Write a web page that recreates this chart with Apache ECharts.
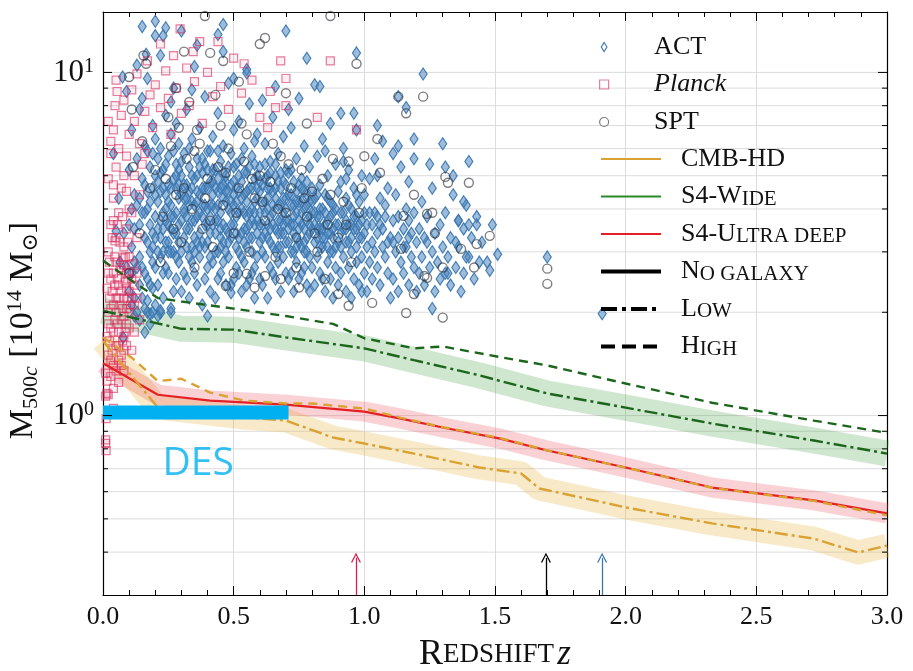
<!DOCTYPE html>
<html><head><meta charset="utf-8">
<script src="https://cdn.jsdelivr.net/npm/echarts@6/dist/echarts.min.js"></script>
<style>html,body{margin:0;padding:0;background:#fff}#c{width:913px;height:671px}</style>
</head><body><div id="c"></div>
<script>
// ---------- tick labels ----------
const xTickLabels = ['0.0','0.5','1.0','1.5','2.0','2.5','3.0'];
const yMajorTicks = [1, 10];
const yMajorExp = ['0', '1'];
const yMinorTicks = [0.4,0.5,0.6,0.7,0.8,0.9,2,3,4,5,6,7,8,9];

// ---------- forecast curves (z, M500c) ----------
const s4WideHigh = [[0,2.83],[0.11,2.47],[0.21,2.2],[0.3,2.15],[0.5,2.05],[0.7,1.95],[0.88,1.85],[1.0,1.68],[1.19,1.57],[1.3,1.59],[1.52,1.48],[1.7,1.40],[2.0,1.24],[2.33,1.09],[2.72,0.967],[3.0,0.89]];
const s4WideLow = [[0,2.02],[0.11,1.93],[0.3,1.79],[0.5,1.78],[0.7,1.69],[1.0,1.57],[1.19,1.45],[1.44,1.31],[1.7,1.16],[2.0,1.055],[2.33,0.948],[2.72,0.846],[3.0,0.775]];
const ultraDeep = [[0,1.42],[0.21,1.15],[0.41,1.106],[0.7,1.076],[1.0,1.027],[1.14,0.98],[1.3,0.923],[1.52,0.857],[1.7,0.791],[2.0,0.706],[2.33,0.617],[2.72,0.566],[3.0,0.519]];
const cmbHdHigh = [[0,1.69],[0.11,1.475],[0.21,1.26],[0.3,1.28],[0.41,1.167],[0.54,1.106],[0.7,1.084],[0.8,1.084],[1.0,1.048],[1.14,0.985],[1.3,0.925],[1.52,0.86],[1.7,0.792],[2.0,0.705],[2.33,0.616],[2.72,0.564],[3.0,0.512]];
const cmbHdLow = [[0,1.65],[0.21,1.055],[0.54,0.987],[0.7,0.967],[0.88,0.863],[1.0,0.829],[1.19,0.775],[1.44,0.706],[1.6,0.678],[1.67,0.613],[1.83,0.577],[2.0,0.54],[2.33,0.485],[2.72,0.438],[2.89,0.399],[3.0,0.418]];
const desLimit = [[0,1.02],[0.71,1.02]];
const desLabelPos = [[0.364,0.725]];
const arrowRedshifts = [0.968, 1.695, 1.91];
const arrowTop = 0.385;

// ---------- cluster catalogues (z, M500c) ----------
const act = [
[0.10,2.3],[0.11,3.1],[0.12,4.4],[0.12,1.95],[0.13,5.6],[0.13,2.7],[0.14,3.6],[0.14,7.8],[0.15,2.2],[0.15,4.9],[0.16,3.3],[0.16,6.1],[0.17,2.5],[0.17,4.0],[0.17,9.6],[0.18,1.85],[0.18,3.0],[0.18,5.3],[0.19,2.8],[0.19,4.6],[0.19,7.0],[0.20,2.1],[0.20,3.8],[0.20,12.8],[0.11,6.8],[0.13,10.5],[0.14,2.4],[0.16,2.05],[0.15,3.9],[0.18,4.2],[0.19,3.4],[0.12,3.5],[0.16,4.7],[0.17,5.9],[0.2,5.0],[0.14,4.3],[0.11,2.6],[0.19,2.35],[0.2,6.4],[0.15,8.4],
[0.21,2.4],[0.21,3.5],[0.21,4.8],[0.22,2.9],[0.22,6.0],[0.22,11.2],[0.23,2.2],[0.23,3.9],[0.23,5.2],[0.24,3.2],[0.24,4.4],[0.24,7.5],[0.25,2.6],[0.25,3.6],[0.25,5.7],[0.26,2.0],[0.26,4.1],[0.26,6.6],[0.27,3.0],[0.27,4.9],[0.27,9.0],[0.28,2.5],[0.28,3.4],[0.28,5.4],[0.29,2.8],[0.29,4.3],[0.29,6.2],[0.30,3.7],[0.30,2.3],[0.30,5.0],[0.22,3.3],[0.24,2.7],[0.26,3.0],[0.28,4.6],[0.23,4.6],[0.25,4.2],[0.27,2.3],[0.29,3.2],[0.21,5.6],[0.26,8.2],[0.24,13.5],[0.28,7.1],
[0.31,2.6],[0.31,4.0],[0.31,5.8],[0.32,3.1],[0.32,4.7],[0.32,7.8],[0.33,2.2],[0.33,3.5],[0.33,5.3],[0.34,2.8],[0.34,4.2],[0.34,6.4],[0.35,3.3],[0.35,4.9],[0.35,10.4],[0.36,2.4],[0.36,3.8],[0.36,5.6],[0.37,2.9],[0.37,4.4],[0.37,6.9],[0.38,3.2],[0.38,5.1],[0.38,2.1],[0.39,3.6],[0.39,4.6],[0.39,8.5],[0.40,2.7],[0.40,4.0],[0.40,5.9],[0.32,2.5],[0.34,3.7],[0.36,4.5],[0.38,4.1],[0.35,2.6],[0.37,3.4],[0.39,2.5],[0.33,4.5],[0.31,3.3],[0.40,3.2],[0.36,12.0],[0.34,8.9],
[0.41,2.3],[0.41,3.4],[0.41,4.8],[0.42,2.8],[0.42,4.1],[0.42,6.5],[0.43,3.0],[0.43,5.2],[0.43,2.2],[0.44,3.7],[0.44,4.5],[0.44,7.6],[0.45,2.6],[0.45,3.9],[0.45,5.5],[0.46,3.2],[0.46,4.3],[0.46,6.1],[0.47,2.4],[0.47,3.5],[0.47,5.0],[0.48,2.9],[0.48,4.0],[0.48,9.3],[0.49,3.3],[0.49,4.7],[0.49,5.8],[0.50,2.5],[0.50,3.6],[0.50,6.8],[0.42,3.6],[0.44,2.5],[0.46,2.8],[0.48,3.4],[0.45,4.6],[0.47,4.2],[0.43,4.0],[0.49,2.4],[0.41,5.9],[0.46,11.5],[0.5,4.4],[0.44,3.0],
[0.51,2.7],[0.51,4.2],[0.51,5.4],[0.52,3.0],[0.52,3.9],[0.52,7.2],[0.53,2.3],[0.53,3.4],[0.53,4.8],[0.54,2.8],[0.54,4.4],[0.54,6.0],[0.55,3.1],[0.55,3.8],[0.55,5.1],[0.56,2.5],[0.56,4.6],[0.56,8.1],[0.57,3.3],[0.57,4.0],[0.57,5.7],[0.58,2.2],[0.58,3.6],[0.58,4.9],[0.59,2.9],[0.59,4.3],[0.59,6.6],[0.60,3.2],[0.60,3.9],[0.60,5.3],[0.52,2.6],[0.54,3.5],[0.56,3.3],[0.58,2.7],[0.53,4.0],[0.55,2.4],[0.57,2.6],[0.59,3.4],[0.51,3.4],[0.55,10.2],[0.58,6.3],[0.6,2.5],
[0.61,2.4],[0.61,3.6],[0.61,4.7],[0.62,2.9],[0.62,4.2],[0.62,6.2],[0.63,3.3],[0.63,4.0],[0.63,2.2],[0.64,2.7],[0.64,3.8],[0.64,5.5],[0.65,3.1],[0.65,4.5],[0.65,7.4],[0.66,2.5],[0.66,3.5],[0.66,5.0],[0.67,2.8],[0.67,4.1],[0.67,5.8],[0.68,3.4],[0.68,4.6],[0.68,2.3],[0.69,2.9],[0.69,3.9],[0.69,6.5],[0.70,3.2],[0.70,4.3],[0.70,2.6],[0.62,3.4],[0.64,3.2],[0.66,4.3],[0.68,3.7],[0.63,5.0],[0.65,2.6],[0.67,3.4],[0.69,4.8],[0.61,8.3],[0.66,9.1],[0.7,5.2],
[0.71,2.5],[0.71,3.7],[0.71,5.1],[0.72,3.0],[0.72,4.4],[0.72,6.9],[0.73,2.3],[0.73,3.4],[0.73,4.8],[0.74,2.8],[0.74,3.9],[0.74,5.6],[0.75,3.2],[0.75,4.2],[0.75,8.4],[0.76,2.6],[0.76,3.6],[0.76,4.9],[0.77,3.0],[0.77,4.5],[0.77,6.1],[0.78,2.4],[0.78,3.3],[0.78,4.1],[0.79,2.9],[0.79,3.8],[0.79,5.3],[0.80,2.7],[0.80,3.5],[0.80,4.6],[0.72,2.6],[0.74,3.3],[0.76,3.1],[0.78,3.7],[0.73,4.1],[0.75,2.5],[0.77,2.7],[0.79,2.3],[0.71,7.8],[0.78,11.0],
[0.81,2.4],[0.81,3.2],[0.81,4.3],[0.82,2.9],[0.82,3.8],[0.82,5.7],[0.83,2.6],[0.83,3.5],[0.83,4.7],[0.84,3.1],[0.84,4.0],[0.84,6.4],[0.85,2.3],[0.85,3.3],[0.85,4.4],[0.86,2.8],[0.86,3.7],[0.86,5.0],[0.87,2.5],[0.87,3.4],[0.87,7.1],[0.88,3.0],[0.88,4.1],[0.88,2.2],[0.89,2.7],[0.89,3.6],[0.89,5.4],[0.90,3.2],[0.90,4.5],[0.90,2.4],[0.83,4.0],[0.85,5.9],[0.87,4.2],[0.82,3.3],[0.84,2.5],[0.86,3.1],[0.88,3.5],[0.81,9.2],
[0.91,2.6],[0.91,3.4],[0.91,4.8],[0.92,2.9],[0.92,3.9],[0.92,6.0],[0.93,2.3],[0.93,3.2],[0.93,4.3],[0.94,2.7],[0.94,3.6],[0.94,5.2],[0.95,3.0],[0.95,4.0],[0.95,2.2],[0.96,2.5],[0.96,3.5],[0.96,4.6],[0.97,2.8],[0.97,3.8],[0.97,6.8],[0.98,2.4],[0.98,3.3],[0.98,4.2],[0.99,2.9],[0.99,3.7],[0.99,5.0],[1.00,2.6],[1.00,3.4],[1.00,4.4],[0.93,3.7],[0.95,3.3],[0.97,3.1],[0.99,2.3],[0.92,5.5],[0.96,7.6],[0.94,4.1],
[1.01,2.3],[1.01,3.6],[1.02,2.8],[1.02,4.9],[1.03,3.2],[1.03,2.5],[1.04,3.9],[1.04,5.6],[1.05,2.7],[1.05,3.4],[1.06,4.3],[1.06,2.4],[1.07,3.1],[1.07,6.3],[1.08,2.9],[1.08,3.8],[1.09,2.6],[1.09,4.6],[1.10,3.3],[1.10,2.2],[1.04,3.0],[1.06,3.6],[1.08,4.1],[1.02,3.9],[1.05,5.0],
[1.11,2.5],[1.11,3.7],[1.12,3.0],[1.12,4.4],[1.13,2.3],[1.13,3.3],[1.14,2.8],[1.14,5.3],[1.15,3.5],[1.15,2.6],[1.16,4.0],[1.16,3.1],[1.17,2.4],[1.17,4.8],[1.18,2.9],[1.18,3.4],[1.19,2.7],[1.19,3.9],[1.20,3.2],[1.20,2.3],[1.13,6.1],[1.17,3.7],
[1.21,2.6],[1.21,3.5],[1.22,2.9],[1.22,4.2],[1.23,2.4],[1.24,3.2],[1.24,3.8],[1.25,2.7],[1.26,3.0],[1.26,4.6],[1.27,2.3],[1.27,3.4],[1.28,2.8],[1.29,3.6],[1.29,2.5],[1.30,3.1],[1.25,5.4],[1.23,3.3],
[1.31,2.6],[1.31,3.9],[1.32,2.9],[1.33,3.3],[1.33,2.4],[1.34,4.4],[1.35,2.7],[1.36,3.1],[1.36,3.7],[1.37,2.3],[1.38,3.5],[1.38,2.6],[1.39,4.1],[1.40,2.9],[1.41,3.3],[1.42,2.5],[1.43,3.8],[1.44,2.8],[1.45,3.2],[1.34,5.0],[1.40,5.5],
[1.225,9.9],[1.30,6.2],[1.31,5.3],[1.38,4.2],[1.36,3.7],[1.40,3.6],[1.43,3.6],[1.49,3.6],[1.35,3.2],[1.39,2.9],[1.51,2.95],[1.47,2.8],[1.48,2.65],[1.32,2.6],[1.26,2.05],[1.70,2.9],[1.91,1.98],
[1.13,8.5],[1.16,7.9],[1.19,6.4],[1.19,5.6],[1.11,5.8],[1.05,7.0],[0.97,11.4],[0.70,13.2],[0.83,9.1],[0.91,7.6],
[0.15,13.6],[0.2,14.1],[0.46,13.8],[0.30,13.2],[0.23,12.8],[0.44,12.9],[0.165,11.3],[0.55,9.96],[0.50,9.6],[0.075,9.7],[0.09,8.8],[0.04,5.8],[0.06,4.3],[0.05,3.45],[0.065,2.8],
[0.17,2.16],[0.22,1.99],[0.26,2.05],[0.40,1.95],[0.18,1.98],[0.49,2.28],[0.077,1.69],[0.22,2.02],
[0.18,3.6],[0.19,5.8],[0.21,4.2],[0.22,5.1],[0.23,3.0],[0.24,5.4],[0.25,4.7],[0.26,3.5],[0.27,5.9],[0.28,3.9],[0.29,5.2],[0.30,4.4],[0.31,4.7],[0.32,3.8],[0.33,6.0],[0.34,3.1],[0.35,4.1],[0.36,3.2],[0.37,5.3],[0.38,3.8],[0.39,5.4],[0.40,4.6],[0.41,4.1],[0.42,5.2],[0.43,3.4],[0.44,5.9],[0.45,3.1],[0.46,5.1],[0.47,3.0],[0.48,5.3],[0.49,3.9],[0.50,4.8],[0.51,3.8],[0.52,4.5],[0.53,5.6],[0.54,3.2],[0.55,4.5],[0.56,3.9],[0.57,4.6],[0.58,4.2],[0.59,3.7],[0.60,4.5],[0.61,4.1],[0.62,4.9],[0.63,3.6],[0.64,4.6],[0.65,3.6],[0.66,3.0],[0.67,4.8],[0.68,4.1],[0.69,3.4],[0.70,3.7],[0.71,4.4],[0.72,3.6],[0.73,3.0],[0.74,4.5],[0.75,3.7],[0.76,4.2],[0.77,3.5],[0.78,4.8],[0.79,3.4],[0.80,3.9],[0.82,4.4],[0.84,3.5],[0.86,4.3],[0.88,3.9],
[0.16,3.9],[0.17,3.2],[0.2,4.4],[0.23,3.5],[0.25,3.2],[0.27,3.8],[0.29,3.6],[0.31,3.9],[0.33,2.9],[0.35,3.7],[0.37,3.9],[0.39,3.1],[0.41,3.8],[0.43,4.6],[0.45,3.5],[0.47,4.5],[0.49,4.2],[0.51,3.1],[0.53,2.9],[0.55,3.5],[0.57,3.7],[0.59,5.0],[0.61,3.0],[0.63,4.3],[0.65,4.1],[0.67,3.1],[0.69,4.3],[0.71,3.2],[0.73,3.8],[0.75,4.7],[0.77,4.0],[0.79,4.2],[0.81,3.6],[0.83,3.1],[0.85,3.9],[0.87,3.0],[0.89,4.0],[0.91,3.9],[0.93,4.9],[0.95,3.6],[0.97,4.4],[0.99,3.3],
[0.14,2.9],[0.13,4.1],[0.15,2.7],[0.12,2.8],[0.11,4.0],[0.1,3.6],[0.09,2.7],[0.08,3.4],[0.1,5.2],[0.12,2.2],[0.14,1.9],[0.16,1.75],[0.13,2.0],[0.17,2.0],[0.21,1.95],[0.19,2.0],[0.11,2.1],
[0.16,2.6],[0.17,4.5],[0.18,2.4],[0.19,3.1],[0.2,2.7],[0.21,3.0],[0.22,4.5],[0.23,2.6],[0.24,3.7],[0.25,3.0],[0.26,4.6],[0.27,3.4],[0.28,2.9],[0.29,4.7],[0.3,3.0],[0.31,4.3],[0.32,3.5],[0.33,4.1],[0.34,5.0],[0.35,3.0],[0.36,4.2],[0.37,3.1],[0.38,4.6],[0.39,4.1],[0.4,3.6],[0.41,2.9],[0.42,4.4],[0.43,3.7],[0.44,4.1],[0.45,3.3],[0.46,3.6],[0.47,4.8],[0.48,3.2],[0.49,3.6],[0.5,4.1],[0.51,4.6],[0.52,3.3],[0.53,4.3],[0.54,3.9],[0.55,4.2],[0.56,3.6],[0.57,3.0],[0.58,3.9],[0.59,4.6],[0.6,3.6],[0.61,3.3],[0.62,3.9],[0.63,4.6],[0.64,3.5],[0.65,3.9],[0.66,4.6],[0.67,3.7],[0.68,3.1],[0.69,3.6],[0.7,4.0],[0.71,3.5],[0.72,4.1],[0.73,3.6],[0.74,3.1],[0.75,3.5],[0.76,3.9],[0.77,3.2],[0.78,3.0],[0.79,3.6],[0.8,4.2],[0.81,3.9],[0.82,3.5],[0.83,3.8],[0.84,3.3],[0.85,3.6],[0.86,3.4],[0.87,3.8],[0.88,3.3],[0.89,3.1],[0.9,3.6],[0.91,3.1],[0.92,3.5],[0.93,3.5],[0.94,3.2],[0.96,3.8],[0.97,3.5],[0.98,3.6],[1.0,3.9],[1.01,3.1],[1.03,3.6],[1.05,3.8],[1.07,3.5],[1.09,3.2],[1.11,3.2],[1.13,3.8],[1.15,3.1],[1.17,3.3],
[0.2,3.3],[0.22,3.7],[0.24,4.0],[0.26,3.8],[0.28,5.0],[0.3,5.5],[0.32,4.3],[0.34,4.6],[0.36,5.0],[0.38,5.6],[0.4,5.2],[0.42,4.8],[0.44,4.9],[0.46,4.7],[0.48,4.5],[0.5,5.3],[0.52,5.0],[0.54,5.1],[0.56,5.3],[0.58,5.4],[0.6,4.8],[0.62,5.4],[0.64,5.1],[0.66,5.4],[0.68,5.1],[0.7,4.7],[0.72,5.2],[0.74,4.2],[0.76,4.6],[0.78,4.4]
];
const planck = [
[0.01,0.85],[0.012,0.98],[0.01,1.14],[0.015,1.26],[0.01,1.33],[0.015,1.16],[0.01,0.83],[0.012,0.79],[0.295,13.4],[0.37,12.3],[0.44,12.3],[0.54,10.6],[0.22,12.1],[0.345,11.5],[0.054,8.8],[0.046,8.0],[0.02,7.2],[0.03,5.8],[0.04,4.7],[0.04,3.7],[0.046,3.23],[0.077,2.88],[0.115,2.77],[0.68,10.8],[0.87,10.8],[0.70,9.6],[0.64,8.8],[0.66,7.9],[0.70,8.0],[0.82,7.4],[0.97,6.8],[0.63,6.9],
[0.02,1.5],[0.03,1.8],[0.04,2.1],[0.05,1.6],[0.06,2.4],[0.07,1.9],[0.08,2.2],[0.09,2.6],[0.1,2.3],[0.11,2.5],[0.03,2.5],[0.04,1.4],[0.05,2.8],[0.06,1.75],[0.07,2.65],[0.08,1.55],[0.09,2.05],[0.1,2.9],[0.12,2.4],[0.13,2.6],[0.02,2.0],[0.03,1.3],[0.04,2.6],[0.05,2.2],[0.06,1.45],[0.07,2.3],[0.08,2.75],[0.09,1.85],[0.025,1.65],[0.035,2.3],[0.045,1.9],[0.055,2.5],[0.065,2.1],[0.075,1.65],[0.085,2.45],[0.095,2.2],
[0.02,3.0],[0.05,3.3],[0.08,3.1],[0.03,3.6],[0.06,3.9],[0.09,3.5],[0.04,4.3],[0.07,4.6],[0.1,4.0],[0.02,4.9],[0.05,5.3],[0.08,5.0],[0.03,6.3],[0.06,6.0],[0.09,5.7],[0.04,6.8],[0.07,7.5],[0.1,6.6],[0.05,9.5],[0.08,8.3],[0.12,7.2],[0.11,8.9],[0.14,6.2],[0.13,9.9],[0.16,7.7],[0.15,5.4],[0.18,8.6],[0.17,10.8],[0.2,9.2],[0.19,6.9],[0.22,7.9],[0.24,10.1],[0.25,8.4],[0.27,11.2],[0.26,6.6],[0.28,9.0],[0.3,7.6],[0.32,10.3],[0.33,8.0],[0.35,9.4],[0.38,7.1],[0.4,10.0],[0.42,8.5],[0.45,9.1],[0.48,7.8],[0.5,11.0],[0.53,8.7],[0.57,9.5],[0.6,7.4],
[0.12,5.0],[0.14,4.4],[0.16,5.8],[0.13,3.3],[0.11,3.9],[0.09,4.5],[0.12,2.1],[0.14,1.9],[0.1,1.8],[0.11,1.55],[0.08,1.35],[0.06,1.25],[0.02,1.15],[0.04,1.05],
[0.015,1.7],[0.025,2.2],[0.035,1.55],[0.045,2.4],[0.055,1.85],[0.065,2.7],[0.075,2.05],[0.085,1.75],[0.095,2.5],[0.105,2.1],[0.02,2.6],[0.03,2.05],[0.04,1.75],[0.05,2.0],[0.06,2.2],[0.07,1.5],[0.08,1.95],[0.09,2.35],[0.1,2.0],[0.11,2.2],[0.03,1.45],[0.05,1.35],[0.07,1.4],[0.09,1.6],[0.025,2.8],[0.045,2.9],[0.065,3.2],[0.085,2.9],[0.035,3.3],[0.055,3.6],[0.075,3.8],[0.095,3.2],[0.04,1.2],[0.06,1.6],[0.08,1.7],[0.02,1.85],[0.1,2.6],[0.12,1.75],[0.13,2.2],[0.015,2.35]
];
const spt = [
[0.155,11.2],[0.165,10.6],[0.10,9.7],[0.11,7.8],[0.31,11.5],[0.41,11.4],[0.46,10.8],[0.60,12.1],[0.39,14.6],[0.115,5.3],[0.47,2.39],[0.58,2.36],[0.55,2.59],[0.87,14.6],[0.62,12.6],[0.97,10.6],[0.70,8.7],[1.13,8.5],[1.225,8.5],[1.16,7.6],[0.78,7.1],[1.05,6.4],[1.0,5.7],[1.06,5.1],[0.94,5.5],[1.19,4.4],[1.15,3.82],[1.14,3.06],[1.24,3.87],[1.24,2.52],[1.19,2.26],[1.16,1.99],[0.94,2.09],[1.03,2.13],[0.90,2.26],[0.75,2.36],[0.68,2.5],[1.31,4.96],[1.40,4.77],[1.32,4.77],[1.26,3.9],[1.27,3.4],[1.48,3.34],[1.43,3.16],[1.37,3.06],[1.42,2.7],[1.30,2.7],[1.23,2.55],[1.30,1.93],[1.70,2.68],[1.70,2.42],
[0.2,5.2],[0.23,3.8],[0.26,6.1],[0.28,4.4],[0.3,3.2],[0.32,5.6],[0.34,4.0],[0.36,6.8],[0.38,3.5],[0.4,4.9],[0.42,3.1],[0.44,5.3],[0.46,4.1],[0.48,6.0],[0.5,3.4],[0.52,4.6],[0.54,5.5],[0.56,3.0],[0.58,4.3],[0.6,5.0],[0.62,3.7],[0.64,4.8],[0.66,2.9],[0.68,5.7],[0.7,3.9],[0.72,4.6],[0.74,3.3],[0.76,5.2],[0.78,3.8],[0.8,4.5],[0.82,3.0],[0.84,4.9],[0.86,3.6],[0.88,5.6],[0.9,3.3],[0.92,4.2],[0.95,2.8],[0.98,3.9],[0.25,7.4],[0.33,8.2],[0.45,7.0],[0.55,6.6],[0.65,6.2],[0.18,4.6],[0.22,2.8],[0.35,2.7],[0.5,2.6],[0.62,2.55],[0.74,2.7],[0.85,2.5],[0.15,6.3],[0.14,3.4],[0.28,9.0],[0.43,8.6],[0.52,9.4],[0.1,2.6],
[0.24,4.9],[0.27,3.5],[0.31,4.6],[0.35,5.9],[0.39,4.3],[0.41,3.7],[0.47,5.1],[0.51,3.9],[0.57,4.9],[0.61,4.2],[0.67,4.0],[0.71,5.4],[0.77,4.3],[0.81,3.4],[0.87,4.4],[0.93,3.6],[0.99,4.6],[0.29,6.9],[0.37,6.2],[0.53,7.1]
];

// ---------- styles ----------
const SERIF = "'Liberation Serif','DejaVu Serif','Times New Roman',serif";
const C_ACT = '#3a78b2', C_PLANCK = '#d8285a', C_SPT = '#2e2e36';
const C_HD = '#d9a233', C_WIDE = '#1c661c', C_UD = '#e42024', C_DES = '#00b0f0';
const DASH = [9, 6], DASHDOT = [13, 4, 3, 4];
const DIAMOND = 'path://M5,0L10,8L5,16L0,8Z';
const SQUARE = 'path://M0,0L10,0L10,10L0,10Z';
const CHEVRON = 'path://M0,10L5,0L10,10L8.8,10.6L5,2.6L1.2,10.6Z';

const chart = echarts.init(document.getElementById('c'), null, {renderer: 'canvas'});

function gridLineItem(params, api) {
  const v = api.value(1);
  const a = api.coord([0, v]), b = api.coord([3, v]);
  return {type: 'line', shape: {x1: a[0], y1: a[1], x2: b[0], y2: b[1]}, style: {stroke: '#dcdcdc', lineWidth: 1}};
}
function tickItem(params, api) {
  const v = api.value(1), len = api.value(2);
  const a = api.coord([0, v]), b = api.coord([3, v]);
  return {type: 'group', children: [
    {type: 'line', shape: {x1: a[0], y1: a[1], x2: a[0] + len, y2: a[1]}, style: {stroke: '#000', lineWidth: 1}},
    {type: 'line', shape: {x1: b[0], y1: b[1], x2: b[0] - len, y2: b[1]}, style: {stroke: '#000', lineWidth: 1}}
  ]};
}

const legendRich = {
  g: {width: 15, fontSize: 26, lineHeight: 26, verticalAlign: 'middle'},
  n: {fontFamily: SERIF, fontSize: 26, lineHeight: 26, verticalAlign: 'middle', color: '#111'},
  sc: {fontFamily: SERIF, fontSize: 21, lineHeight: 22, verticalAlign: 'bottom', color: '#111'},
  it: {fontFamily: SERIF, fontSize: 26, fontStyle: 'italic', lineHeight: 26, verticalAlign: 'middle', color: '#111'}
};
const legendNames = {
  'ACT': '{g| }{n|ACT}', 'Planck': '{g| }{it|Planck}', 'SPT': '{g| }{n|SPT}',
  'CMB-HD': '{g| }{n|CMB-HD}', 'S4-Wide': '{g| }{n|S4-W}{sc|IDE}',
  'S4-Ultra deep': '{g| }{n|S4-U}{sc|LTRA DEEP}', 'No galaxy': '{g| }{n|N}{sc|O GALAXY}',
  'Low': '{g| }{n|L}{sc|OW}', 'High': '{g| }{n|H}{sc|IGH}'
};

const near = (a, b) => Math.abs(a - b) < 1e-6 * Math.max(1, Math.abs(b));

const option = {
  animation: false,
  backgroundColor: '#fff',
  grid: {left: 103, right: 26, top: 12, bottom: 76, containLabel: false, outerBoundsMode: 'none'},
  legend: [
    {
      orient: 'vertical', left: 599, top: 34, padding: 0, itemGap: 11.5,
      itemWidth: 60, itemHeight: 9, selectedMode: false,
      data: ['ACT', 'Planck', 'SPT'],
      itemStyle: {color: 'rgba(0,0,0,0)', borderWidth: 1.2},
      formatter: n => legendNames[n],
      textStyle: {fontFamily: SERIF, fontSize: 26, rich: legendRich}
    },
    {
      orient: 'vertical', left: 599, top: 146, padding: 0, itemGap: 11.5,
      itemWidth: 60, itemHeight: 10, selectedMode: false,
      itemStyle: {color: 'transparent', borderWidth: 0, opacity: 0},
      data: [
        {name: 'CMB-HD', lineStyle: {width: 2, type: 'solid'}},
        {name: 'S4-Wide', lineStyle: {width: 2, type: 'solid'}},
        {name: 'S4-Ultra deep', lineStyle: {width: 2, type: 'solid'}},
        {name: 'No galaxy', lineStyle: {width: 4, type: 'solid'}},
        {name: 'Low', lineStyle: {width: 4, type: [16, 5, 4, 5]}},
        {name: 'High', lineStyle: {width: 4, type: [14, 7]}}
      ],
      formatter: n => legendNames[n],
      textStyle: {fontFamily: SERIF, fontSize: 26, rich: legendRich}
    }
  ],
  xAxis: [
    {
      type: 'value', min: 0, max: 3, interval: 0.5, position: 'bottom',
      name: '{b|R}{s|EDSHIFT} {i|z}', nameLocation: 'middle', nameGap: 41,
      nameTextStyle: {rich: {
        b: {fontFamily: SERIF, fontSize: 36, lineHeight: 38, verticalAlign: 'middle', color: '#111'},
        s: {fontFamily: SERIF, fontSize: 27, lineHeight: 38, verticalAlign: 'middle', color: '#111'},
        i: {fontFamily: SERIF, fontSize: 35, fontStyle: 'italic', lineHeight: 38, verticalAlign: 'middle', color: '#111'}
      }},
      axisLine: {show: true, onZero: false, lineStyle: {color: '#000', width: 1.2}},
      axisTick: {show: true, inside: true, length: 9, lineStyle: {color: '#000', width: 1}},
      minorTick: {show: true, splitNumber: 5, length: 5, lineStyle: {color: '#000', width: 1}},
      splitLine: {show: true, lineStyle: {color: '#dcdcdc', width: 1}},
      axisLabel: {
        margin: 9, fontFamily: SERIF, fontSize: 26, color: '#111',
        formatter: v => xTickLabels[Math.round(v / 0.5)]
      }
    },
    {
      type: 'value', min: 0, max: 3, interval: 0.5, position: 'top',
      axisLine: {show: true, onZero: false, lineStyle: {color: '#000', width: 1.2}},
      axisTick: {show: true, inside: true, length: 9, lineStyle: {color: '#000', width: 1}},
      minorTick: {show: true, splitNumber: 5, length: 5, lineStyle: {color: '#000', width: 1}},
      splitLine: {show: false}, axisLabel: {show: false}
    }
  ],
  yAxis: [
    {
      type: 'log', logBase: 10, min: 0.3, max: 15, position: 'left',
      name: '{m|M}{sub|500}{subi|c}{m| [10}{sup|14}{m| M}{sub|⊙}{m|]}',
      nameLocation: 'middle', nameRotate: 90, nameGap: 44,
      nameTextStyle: {padding: [0, 54, 0, 0], rich: {
        m: {fontFamily: SERIF, fontSize: 34, lineHeight: 38, verticalAlign: 'middle', color: '#111'},
        sub: {fontFamily: SERIF, fontSize: 22, lineHeight: 24, verticalAlign: 'bottom', color: '#111'},
        subi: {fontFamily: SERIF, fontSize: 22, fontStyle: 'italic', lineHeight: 24, verticalAlign: 'bottom', color: '#111'},
        sup: {fontFamily: SERIF, fontSize: 22, lineHeight: 22, verticalAlign: 'top', color: '#111'}
      }},
      axisLine: {show: true, onZero: false, lineStyle: {color: '#000', width: 1.2}},
      axisTick: {show: false}, splitLine: {show: false},
      axisLabel: {
        margin: 9, showMinLabel: false, showMaxLabel: false,
        formatter: v => {
          for (let i = 0; i < yMajorTicks.length; i++) if (near(v, yMajorTicks[i])) return '{b|10}{s|' + yMajorExp[i] + '}';
          return '';
        },
        rich: {
          b: {fontFamily: SERIF, fontSize: 31, lineHeight: 32, verticalAlign: 'middle', color: '#111'},
          s: {fontFamily: SERIF, fontSize: 20, lineHeight: 20, verticalAlign: 'top', color: '#111'}
        }
      }
    },
    {
      type: 'log', logBase: 10, min: 0.3, max: 15, position: 'right',
      axisLine: {show: true, onZero: false, lineStyle: {color: '#000', width: 1.2}},
      axisTick: {show: false}, splitLine: {show: false}, axisLabel: {show: false}
    }
  ],
  series: [
    {type: 'custom', name: 'grid', silent: true, z: 0, clip: false,
     data: yMinorTicks.concat(yMajorTicks).map(v => [0, v]), encode: {x: 0, y: 1},
     renderItem: gridLineItem},
    {type: 'line', name: 'bandWide', data: s4WideLow, symbol: 'none', silent: true, z: 1,
     lineStyle: {color: '#3f9a3f', width: 26, opacity: 0.25, cap: 'butt', join: 'round'}},
    {type: 'line', name: 'bandHD', data: cmbHdLow, symbol: 'none', silent: true, z: 1,
     lineStyle: {color: '#e8b84a', width: 24, opacity: 0.3, cap: 'butt', join: 'round'}},
    {type: 'line', name: 'bandUD', data: ultraDeep, symbol: 'none', silent: true, z: 1,
     lineStyle: {color: '#ee5a66', width: 20, opacity: 0.28, cap: 'butt', join: 'round'}},
    {type: 'scatter', name: 'ACT', data: act, symbol: DIAMOND, symbolSize: [8, 12], z: 2,
     itemStyle: {color: 'rgba(70,128,186,0.55)', borderColor: C_ACT, borderWidth: 1.2, opacity: 0.95}},
    {type: 'scatter', name: 'Planck', data: planck, symbol: SQUARE, symbolSize: 8, z: 2,
     itemStyle: {color: 'rgba(216,40,90,0.12)', borderColor: C_PLANCK, borderWidth: 1.2, opacity: 0.6}},
    {type: 'scatter', name: 'SPT', data: spt, symbol: 'circle', symbolSize: 9, z: 2,
     itemStyle: {color: 'rgba(0,0,0,0)', borderColor: C_SPT, borderWidth: 1.4, opacity: 0.62}},
    {type: 'line', name: 'wideHigh', data: s4WideHigh, symbol: 'none', z: 3, lineStyle: {color: C_WIDE, width: 2.4, type: DASH}},
    {type: 'line', name: 'wideLow', data: s4WideLow, symbol: 'none', z: 3, lineStyle: {color: C_WIDE, width: 2.4, type: DASHDOT}},
    {type: 'line', name: 'udNone', data: ultraDeep, symbol: 'none', z: 3, lineStyle: {color: C_UD, width: 2.2, type: 'solid'}},
    {type: 'line', name: 'hdHigh', data: cmbHdHigh, symbol: 'none', z: 3, lineStyle: {color: C_HD, width: 2.4, type: DASH}},
    {type: 'line', name: 'hdLow', data: cmbHdLow, symbol: 'none', z: 3, lineStyle: {color: C_HD, width: 2.4, type: DASHDOT}},
    {type: 'line', name: 'DESbar', data: desLimit, symbol: 'none', z: 4,
     lineStyle: {color: C_DES, width: 14, cap: 'butt'},
     markLine: {
       silent: true, symbol: ['none', CHEVRON], symbolSize: 10, label: {show: false},
       lineStyle: {width: 1.3, type: 'solid'},
       data: arrowRedshifts.map((z, i) => [
         {coord: [z, 0.3], lineStyle: {color: ['#d81e4f', '#000000', '#3a78b2'][i]}, itemStyle: {color: ['#d81e4f', '#000000', '#3a78b2'][i]}},
         {coord: [z, arrowTop]}
       ])
     }},
    {type: 'scatter', name: 'DESlabel', data: desLabelPos, symbolSize: 1, z: 4, silent: true,
     itemStyle: {color: 'rgba(0,0,0,0)'},
     label: {show: true, position: 'inside', formatter: 'DES', color: C_DES,
             fontFamily: "'Open Sans','Noto Sans',sans-serif", fontSize: 39}},
    {type: 'custom', name: 'yticks', silent: true, z: 5, clip: false,
     data: yMajorTicks.map(v => [0, v, 9]).concat(yMinorTicks.map(v => [0, v, 5])), encode: {x: 0, y: 1},
     renderItem: tickItem},
    {type: 'line', name: 'CMB-HD', data: [], symbol: 'none', lineStyle: {color: C_HD, width: 2}, itemStyle: {color: C_HD}},
    {type: 'line', name: 'S4-Wide', data: [], symbol: 'none', lineStyle: {color: '#2a8a2a', width: 2}, itemStyle: {color: '#2a8a2a'}},
    {type: 'line', name: 'S4-Ultra deep', data: [], symbol: 'none', lineStyle: {color: C_UD, width: 2}, itemStyle: {color: C_UD}},
    {type: 'line', name: 'No galaxy', data: [], symbol: 'none', lineStyle: {color: '#000', width: 4}, itemStyle: {color: '#000'}},
    {type: 'line', name: 'Low', data: [], symbol: 'none', lineStyle: {color: '#000', width: 4, type: [16, 5, 4, 5]}, itemStyle: {color: '#000'}},
    {type: 'line', name: 'High', data: [], symbol: 'none', lineStyle: {color: '#000', width: 4, type: [14, 7]}, itemStyle: {color: '#000'}}
  ]
};
chart.setOption(option);
</script>
</body></html>
